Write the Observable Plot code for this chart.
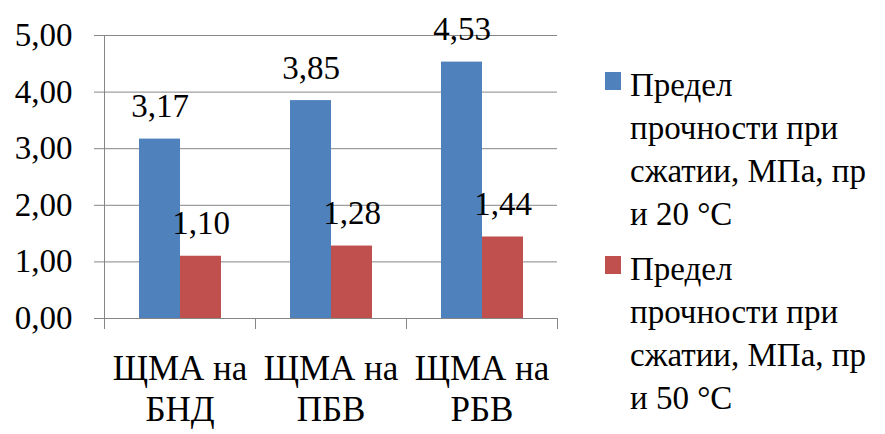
<!DOCTYPE html>
<html>
<head>
<meta charset="utf-8">
<script src="https://cdn.jsdelivr.net/npm/d3@7"></script>
<script src="https://cdn.jsdelivr.net/npm/@observablehq/plot@0.6"></script>
<style>
  html, body { margin: 0; padding: 0; background: #fff; }
  #wrap { position: relative; width: 885px; height: 434px; overflow: hidden; font-family: "Liberation Serif", Tinos, "DejaVu Serif", serif; }
  #legend { position: absolute; left: 0; top: 0; }
  .entry { position: absolute; left: 605px; }
  .sw { position: absolute; left: 0; width: 16px; height: 18px; }
  .lbl { position: absolute; left: 25px; font-size: 33px; line-height: 43px; white-space: nowrap; color: #000; }
</style>
</head>
<body>
<div id="wrap"><div id="legend"></div></div>
<script>
const categories = ["ЩМА на БНД", "ЩМА на ПБВ", "ЩМА на РБВ"];
const seriesNames = [
  "Предел прочности при сжатии, МПа, при  20 °C",
  "Предел прочности при сжатии, МПа, при  50 °C"
];
const seriesLegendLines = [
  ["Предел", "прочности при", "сжатии, МПа, пр", "и  20 °C"],
  ["Предел", "прочности при", "сжатии, МПа, пр", "и  50 °C"]
];
const values20 = [3.17, 3.85, 4.53];
const values50 = [1.10, 1.28, 1.44];
const yTicks = [0, 1, 2, 3, 4, 5];
const colors = ["#4F81BD", "#C0504D"];

const data = [];
categories.forEach((c, i) => {
  data.push({cat: c, series: seriesNames[0], value: values20[i]});
  data.push({cat: c, series: seriesNames[1], value: values50[i]});
});
const fmt = d => d.toFixed(2).replace(".", ",");
const grid = "#868686";
const serif = '"Liberation Serif", Tinos, "DejaVu Serif", serif';

const chart = Plot.plot({
  width: 885,
  height: 434,
  marginLeft: 104,
  marginRight: 328,
  marginTop: 35,
  marginBottom: 116,
  style: {fontFamily: serif, background: "transparent", overflow: "visible"},
  fx: {domain: categories, padding: 0, label: null, axis: null},
  x: {domain: seriesNames, paddingInner: 0, paddingOuter: 0.8, axis: null},
  y: {domain: [0, 5], axis: null},
  color: {domain: seriesNames, range: colors},
  marks: [
    Plot.gridY(yTicks, {stroke: grid, strokeOpacity: 1, strokeWidth: 1}),
    Plot.barY(data, {fx: "cat", x: "series", y: "value", fill: "series"}),
    Plot.ruleY([0], {stroke: grid, strokeWidth: 1}),
    Plot.frame({anchor: "left", insetTop: 283, insetBottom: -10, stroke: grid}),
    Plot.frame({anchor: "left", insetBottom: -10, stroke: grid, fx: [categories[0]]}),
    Plot.frame({anchor: "right", insetTop: 283, insetBottom: -10, stroke: grid, fx: [categories[2]]}),
    Plot.axisY({ticks: yTicks, tickSize: 10, tickPadding: 22, fontSize: 33, tickFormat: fmt, label: null, stroke: grid, fill: "#000", fontFamily: serif}),
    Plot.axisFx({domain: categories, anchor: "bottom", tickSize: 0, tickPadding: 32, fontSize: 35, lineHeight: 1.17, label: null, fill: "#000", fontFamily: serif,
      tickFormat: d => d.replace(" на ", " на\n")}),
    Plot.text(data, {fx: "cat", x: "series", y: "value", text: d => fmt(d.value), dy: -22, lineAnchor: "bottom", fontSize: 33, fill: "#000", fontFamily: serif})
  ]
});
document.getElementById("wrap").prepend(chart);

const legend = document.getElementById("legend");
const tops = [64, 248];
seriesLegendLines.forEach((lines, i) => {
  const e = document.createElement("div");
  e.className = "entry";
  e.style.top = tops[i] + "px";
  const sw = document.createElement("div");
  sw.className = "sw";
  sw.style.background = colors[i];
  sw.style.top = "8px";
  e.appendChild(sw);
  const l = document.createElement("div");
  l.className = "lbl";
  l.innerHTML = lines.join("<br>");
  e.appendChild(l);
  legend.appendChild(e);
});
</script>
</body>
</html>
